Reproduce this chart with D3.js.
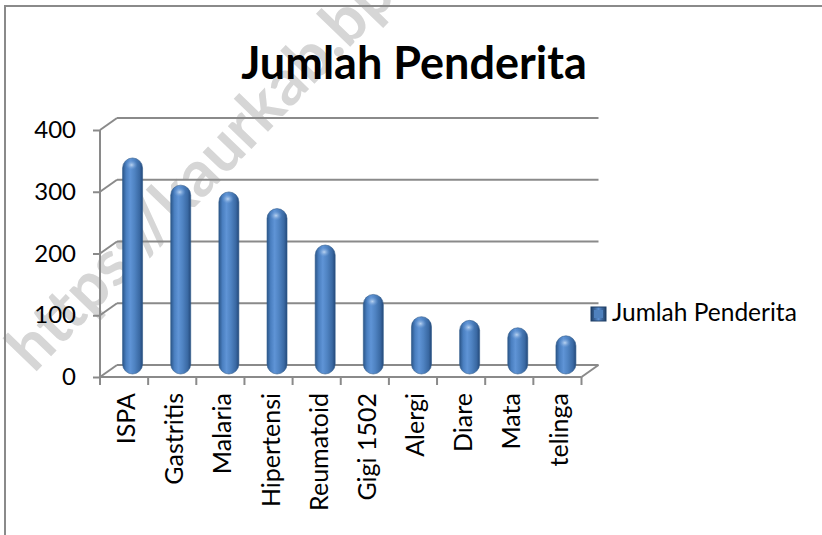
<!DOCTYPE html>
<html>
<head>
<meta charset="utf-8">
<script src="https://d3js.org/d3.v7.min.js"></script>
<style>
  body { margin: 0; background: #fff; }
  svg { display: block; font-family: Lato, "Open Sans", sans-serif; }
</style>
</head>
<body>
<svg id="chart"></svg>
<script>
// data
var categories = ["ISPA", "Gastritis", "Malaria", "Hipertensi", "Reumatoid", "Gigi 1502", "Alergi", "Diare", "Mata", "telinga"];
var values = [345, 301, 290, 263, 204, 124, 88, 82, 70, 57];
var yTicks = [0, 100, 200, 300, 400];
var seriesName = "Jumlah Penderita";
var chartTitle = "Jumlah Penderita";

var w = 822, h = 535;
var svg = d3.select("#chart").attr("width", w).attr("height", h);

// 3d wall offset
var dx = 17, dy = -12;
var grey = "#8a8a8a";

var x = d3.scaleBand().domain(categories).range([100, 581.5]).paddingInner(0).paddingOuter(0);
var y = d3.scaleLinear().domain([0, 400]).range([377, 130]);

var defs = svg.append("defs");
var grad = defs.append("linearGradient").attr("id", "cyl").attr("x1", "0%").attr("x2", "100%");
[["0%", "#2b5689"], ["18%", "#4a7fc0"], ["38%", "#5f94d6"], ["60%", "#4f83c2"], ["85%", "#3a69a3"], ["100%", "#24497a"]]
  .forEach(function (s) { grad.append("stop").attr("offset", s[0]).attr("stop-color", s[1]); });
var hl = defs.append("radialGradient").attr("id", "hl");
hl.append("stop").attr("offset", "0%").attr("stop-color", "#c6dcf5").attr("stop-opacity", 0.9);
hl.append("stop").attr("offset", "100%").attr("stop-color", "#6c9bd6").attr("stop-opacity", 0);
var lg = defs.append("linearGradient").attr("id", "leg").attr("x1", "0%").attr("x2", "100%");
lg.append("stop").attr("offset", "0%").attr("stop-color", "#1f3f66");
lg.append("stop").attr("offset", "50%").attr("stop-color", "#5a8ed0");
lg.append("stop").attr("offset", "100%").attr("stop-color", "#1f3f66");

// watermark (behind everything)
svg.append("text").attr("transform", "translate(34,374) rotate(-46)")
  .attr("font-size", 64).attr("font-weight", "bold").attr("fill", "#d6d6d6")
  .attr("font-family", "Lato, sans-serif").text("https://kaurkab.bps.go.id");

// outer border
svg.append("rect").attr("x", 5).attr("y", 6).attr("width", 830).attr("height", 540)
  .attr("fill", "none").attr("stroke", grey).attr("stroke-width", 2);

// title
svg.append("text").attr("x", 414).attr("y", 79).attr("text-anchor", "middle")
  .attr("font-size", 45).attr("font-weight", "bold").attr("fill", "#000").text(chartTitle);

var x0 = x.range()[0], x1 = x.range()[1];

// back wall gridlines + connectors
var grid = svg.append("g").attr("stroke", grey).attr("stroke-width", 2).attr("fill", "none");
yTicks.forEach(function (t) {
  grid.append("line").attr("x1", x0 + dx).attr("x2", x1 + dx).attr("y1", y(t) + dy).attr("y2", y(t) + dy);
  grid.append("line").attr("x1", x0).attr("x2", x0 + dx).attr("y1", y(t)).attr("y2", y(t) + dy);
});
// floor front + right edge
grid.append("line").attr("x1", x0).attr("x2", x1).attr("y1", y(0)).attr("y2", y(0));
grid.append("line").attr("x1", x1).attr("x2", x1 + dx).attr("y1", y(0)).attr("y2", y(0) + dy);

// y axis
var yAxis = svg.append("g").attr("transform", "translate(" + x0 + ",0)")
  .call(d3.axisLeft(y).tickValues(yTicks).tickSize(7).tickPadding(17));
yAxis.selectAll("path, line").attr("stroke", grey).attr("stroke-width", 2);
yAxis.select(".domain").attr("d", "M0," + y(400) + "V" + y(0));
yAxis.selectAll("text").attr("font-size", 24).attr("fill", "#000").attr("font-family", "Lato, sans-serif");

// x ticks
var xt = svg.append("g").attr("stroke", grey).attr("stroke-width", 2);
d3.range(categories.length + 1).forEach(function (i) {
  var xx = x0 + i * x.bandwidth();
  xt.append("line").attr("x1", xx).attr("x2", xx).attr("y1", y(0)).attr("y2", y(0) + 8);
});

// bars (cylinders)
var bw = 20;
var bars = svg.append("g");
categories.forEach(function (c, i) {
  var cx = x(c) + x.bandwidth() / 2 + dx / 2;
  var top = y(values[i]) + dy / 2;
  var bottom = y(0) + dy / 2 + 3;
  bars.append("rect").attr("x", cx - bw / 2).attr("y", top).attr("width", bw)
    .attr("height", bottom - top).attr("rx", 10).attr("ry", 10)
    .attr("fill", "url(#cyl)").attr("stroke", "#2f5a8c").attr("stroke-width", 0.6);
  bars.append("ellipse").attr("cx", cx - 1).attr("cy", top + 7).attr("rx", 6).attr("ry", 5)
    .attr("fill", "url(#hl)");
});

// category labels
categories.forEach(function (c) {
  var cx = x(c) + x.bandwidth() / 2 + 2;
  svg.append("text").attr("transform", "translate(" + (cx + 9) + ",393) rotate(-90)")
    .attr("text-anchor", "end").attr("font-size", 25).attr("fill", "#000").text(c);
});

// legend
svg.append("rect").attr("x", 591).attr("y", 307).attr("width", 15).attr("height", 14)
  .attr("fill", "url(#leg)").attr("stroke", "#1f3f66").attr("stroke-width", 1);
svg.append("rect").attr("x", 594).attr("y", 310).attr("width", 9).attr("height", 8).attr("fill", "#4f81bd");
svg.append("text").attr("x", 612).attr("y", 321).attr("font-size", 24.5).attr("fill", "#000").text(seriesName);
</script>
</body>
</html>
